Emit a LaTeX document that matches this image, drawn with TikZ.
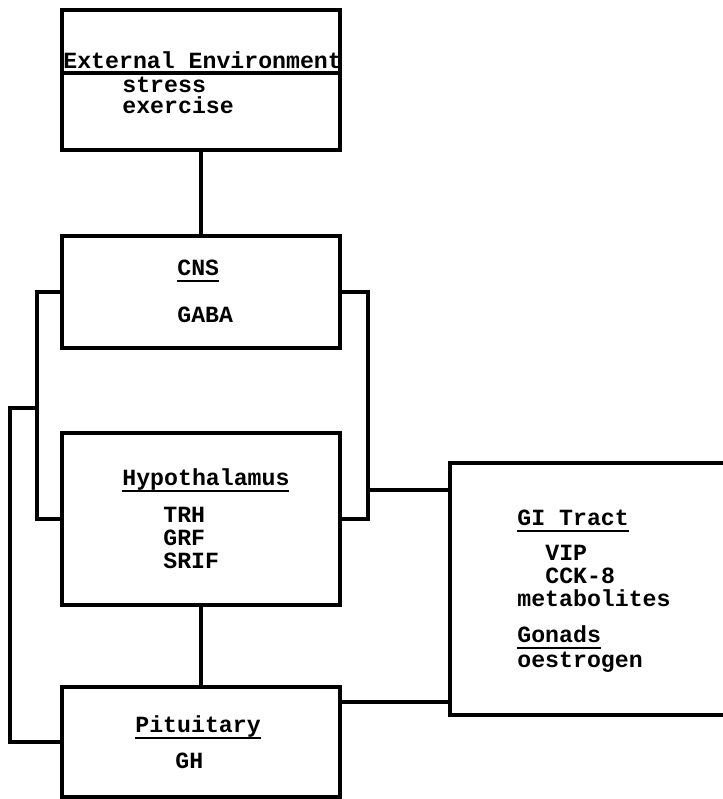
\documentclass[tikz,border=0pt]{standalone}
\usepackage{fontspec}
\setmonofont{Liberation Mono}
\usetikzlibrary{calc}
\newcommand{\undl}[1]{\setbox0\hbox{#1}\dp0=0pt\vtop{\box0\kern2.6pt\hrule height 1pt}}
\tikzset{
  box/.style={draw=black, line width=1.7pt, minimum width=139pt, inner sep=0pt},
  link/.style={line width=1.7pt},
  txt/.style={anchor=base west, inner sep=0pt, font=\ttfamily\bfseries\fontsize{11.6}{13}\selectfont}
}
\begin{document}
\begin{tikzpicture}[x=0.5pt, y=-0.5pt]
\useasboundingbox (0,0) rectangle (723,799);
\clip (0,0) rectangle (723,799);
% boxes
\node[box, minimum height=70pt] (ext) at (201,80) {};
\node[box, minimum height=56pt] (cns) at (201,292) {};
\node[box, minimum height=86pt] (hyp) at (201,519) {};
\node[box, minimum height=55pt] (pit) at (201,742) {};
\node[box, minimum width=145pt, minimum height=126pt] (gi) at (595,589) {};
% external environment
\node[txt] (extT) at (63,68) {External Environment};
\draw[link] ($(ext.west)+(0,-7)$) -- ($(ext.east)+(0,-7)$);
\node[txt] (stress) at (122,92) {stress};
\node[txt] (exer) at (122,113) {exercise};
% cns
\node[txt] (cnsT) at (177,275) {\undl{CNS}};
\node[txt] (gaba) at (177,322) {GABA};
% hypothalamus
\node[txt] (hypT) at (122,485) {\undl{Hypothalamus}};
\node[txt] (trh) at (163,522) {TRH};
\node[txt] (grf) at (163,545) {GRF};
\node[txt] (srif) at (163,568) {SRIF};
% pituitary
\node[txt] (pitT) at (135,732) {\undl{Pituitary}};
\node[txt] (gh) at (175,768) {GH};
% gi tract
\node[txt] (giT) at (517,525) {\undl{GI Tract}};
\node[txt] (vip) at (545,560) {VIP};
\node[txt] (cck) at (545,583) {CCK-8};
\node[txt] (meta) at (517,606) {metabolites};
\node[txt] (gon) at (517,642) {\undl{Gonads}};
\node[txt] (oes) at (517,667) {oestrogen};
% connectors
\coordinate (lj) at (37,408);
\coordinate (rj) at (368,490);
\coordinate (pj) at ($(pit.east)+(0,-40)$);
\draw[link] (ext.south) -- (cns.north);
\draw[link] (cns.west) -| (lj) |- (hyp.west);
\draw[link] (lj) -- ++(-27,0) |- (pit.west);
\draw[link] (cns.east) -| (rj) |- (hyp.east);
\draw[link] (rj) -- (rj -| gi.west);
\draw[link] (hyp.south) -- (pit.north);
\draw[link] (pj) -- (pj -| gi.west);
\end{tikzpicture}
\end{document}
